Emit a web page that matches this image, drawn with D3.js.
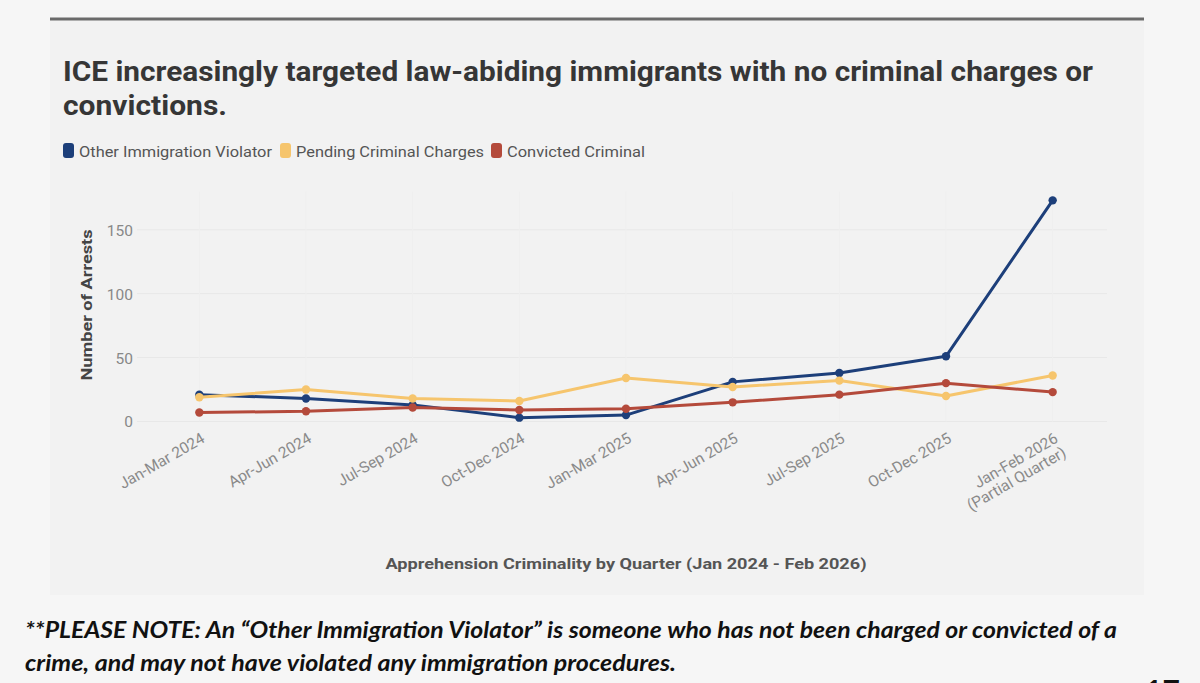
<!DOCTYPE html>
<html>
<head>
<meta charset="utf-8">
<script src="https://cdn.jsdelivr.net/npm/d3@7"></script>
<style>
  html, body { margin: 0; padding: 0; background: #f6f6f6; }
  svg { display: block; }
</style>
</head>
<body>
<svg id="chart" width="1200" height="683"></svg>
<script>
// ---- data ----
const categories = ["Jan-Mar 2024", "Apr-Jun 2024", "Jul-Sep 2024", "Oct-Dec 2024", "Jan-Mar 2025",
                    "Apr-Jun 2025", "Jul-Sep 2025", "Oct-Dec 2025", "Jan-Feb 2026 (Partial Quarter)"];
const tickLabels = [["Jan-Mar 2024"], ["Apr-Jun 2024"], ["Jul-Sep 2024"], ["Oct-Dec 2024"], ["Jan-Mar 2025"],
                    ["Apr-Jun 2025"], ["Jul-Sep 2025"], ["Oct-Dec 2025"], ["Jan-Feb 2026", "(Partial Quarter)"]];
const otherViolator  = [21, 18, 13, 3, 5, 31, 38, 51, 173];
const pendingCharges = [19, 25, 18, 16, 34, 27, 32, 20, 36];
const convicted      = [7, 8, 11, 9, 10, 15, 21, 30, 23];
const seriesNames  = ["Other Immigration Violator", "Pending Criminal Charges", "Convicted Criminal"];
const seriesColors = ["#1d3f7a", "#f6c56d", "#b44a3b"];
const yTicks = [0, 50, 100, 150];

const titleLines = ["ICE increasingly targeted law-abiding immigrants with no criminal charges or", "convictions."];
const xAxisTitle = "Apprehension Criminality by Quarter (Jan 2024 - Feb 2026)";
const yAxisTitle = "Number of Arrests";
const noteLines = ["**PLEASE NOTE: An \u201cOther Immigration Violator\u201d is someone who has not been charged or convicted of a",
                   "crime, and may not have violated any immigration procedures."];
const pageNumber = "17";

// ---- drawing ----
const svg = d3.select("#chart");
const FONT = "Roboto, 'Noto Sans', sans-serif";

// panel
svg.append("rect").attr("x", 50).attr("y", 19).attr("width", 1094).attr("height", 576).attr("fill", "#f2f2f2");
svg.append("line").attr("x1", 50).attr("x2", 1144).attr("y1", 19).attr("y2", 19)
  .attr("stroke", "#6a6a6a").attr("stroke-width", 3);

// title
const titleW = [1030, 164];
svg.append("g").selectAll("text").data(titleLines).join("text")
  .attr("x", 63).attr("y", (d, i) => 81 + i * 34)
  .attr("font-family", FONT).attr("font-weight", 700).attr("font-size", 27)
  .attr("fill", "#363636")
  .attr("textLength", (d, i) => titleW[i]).attr("lengthAdjust", "spacingAndGlyphs")
  .text(d => d);

// legend
const legendX = [63, 280, 491];
const legendW = [193, 188, 138];
const lg = svg.append("g").selectAll("g").data(seriesNames).join("g")
  .attr("transform", (d, i) => `translate(${legendX[i]},0)`);
lg.append("rect").attr("x", 0).attr("y", 143).attr("width", 11).attr("height", 15).attr("rx", 3)
  .attr("fill", (d, i) => seriesColors[i]);
lg.append("text").attr("x", 16).attr("y", 157)
  .attr("font-family", FONT).attr("font-size", 15).attr("fill", "#555555")
  .attr("textLength", (d, i) => legendW[i]).attr("lengthAdjust", "spacingAndGlyphs")
  .text(d => d);

// scales
const x = d3.scalePoint().domain(categories).range([146, 1106]).padding(0.5);
const y = d3.scaleLinear().domain([0, 180]).range([421.5, 191.4]);

// gridlines
const grid = svg.append("g");
grid.selectAll("line.h").data(yTicks).join("line").attr("class", "h")
  .attr("x1", 137).attr("x2", 1107).attr("y1", d => y(d)).attr("y2", d => y(d))
  .attr("stroke", "#e8e8e8").attr("stroke-width", 1);
grid.selectAll("line.v").data(categories).join("line").attr("class", "v")
  .attr("x1", d => x(d)).attr("x2", d => x(d)).attr("y1", y(180)).attr("y2", y(0))
  .attr("stroke", "#efefef").attr("stroke-width", 1);

// y axis
const yAxis = d3.axisLeft(y).tickValues(yTicks).tickSize(0).tickPadding(0);
const yg = svg.append("g").attr("transform", "translate(133,0)").call(yAxis);
yg.select(".domain").remove();
yg.selectAll("text").attr("font-family", FONT).attr("font-size", 15.5).attr("fill", "#888888").attr("dy", "0.35em");

svg.append("text")
  .attr("transform", "translate(92,305) rotate(-90)")
  .attr("text-anchor", "middle").attr("font-family", FONT).attr("font-weight", 700)
  .attr("font-size", 14.5).attr("fill", "#444444")
  .attr("textLength", 151).attr("lengthAdjust", "spacingAndGlyphs")
  .text(yAxisTitle);

// x axis
const xAxis = d3.axisBottom(x).tickSize(0).tickFormat(() => "");
const xg = svg.append("g").attr("transform", `translate(0,${y(0)})`).call(xAxis);
xg.select(".domain").remove();
xg.selectAll(".tick").each(function (d, i) {
  const t = d3.select(this).append("text")
    .attr("transform", "translate(6,20) rotate(-30)")
    .attr("text-anchor", "end").attr("font-family", FONT).attr("font-size", 15.5).attr("fill", "#8a8a8a");
  tickLabels[i].forEach((line, j) => {
    t.append("tspan").attr("x", 0).attr("dy", j === 0 ? 0 : "1.05em").text(line);
  });
});

svg.append("text")
  .attr("x", 626).attr("y", 569).attr("text-anchor", "middle")
  .attr("font-family", FONT).attr("font-weight", 700).attr("font-size", 15).attr("fill", "#555555")
  .attr("textLength", 481).attr("lengthAdjust", "spacingAndGlyphs")
  .text(xAxisTitle);

// series
const allSeries = [otherViolator, pendingCharges, convicted];
const line = d3.line().x((d, i) => x(categories[i])).y(d => y(d));
const sg = svg.append("g").selectAll("g").data(allSeries).join("g");
sg.append("path").attr("d", d => line(d)).attr("fill", "none")
  .attr("stroke", (d, i) => seriesColors[i]).attr("stroke-width", 3).attr("stroke-linejoin", "round");
sg.each(function (vals, si) {
  d3.select(this).selectAll("circle").data(vals).join("circle")
    .attr("cx", (d, i) => x(categories[i])).attr("cy", d => y(d)).attr("r", 4.2)
    .attr("fill", seriesColors[si]);
});

// note
svg.append("g").selectAll("text").data(noteLines).join("text")
  .attr("x", 25).attr("y", (d, i) => 638 + i * 33)
  .attr("font-family", "Lato, 'Open Sans', sans-serif").attr("font-style", "italic").attr("font-weight", 700)
  .attr("font-size", 22).attr("fill", "#111111")
  .attr("textLength", (d, i) => i === 0 ? 1092 : 651).attr("lengthAdjust", "spacingAndGlyphs")
  .text(d => d);

svg.append("text").attr("x", 1145).attr("y", 702)
  .attr("font-family", "Lato, sans-serif").attr("font-weight", 700).attr("font-size", 30).attr("fill", "#111111")
  .text(pageNumber);
</script>
</body>
</html>
